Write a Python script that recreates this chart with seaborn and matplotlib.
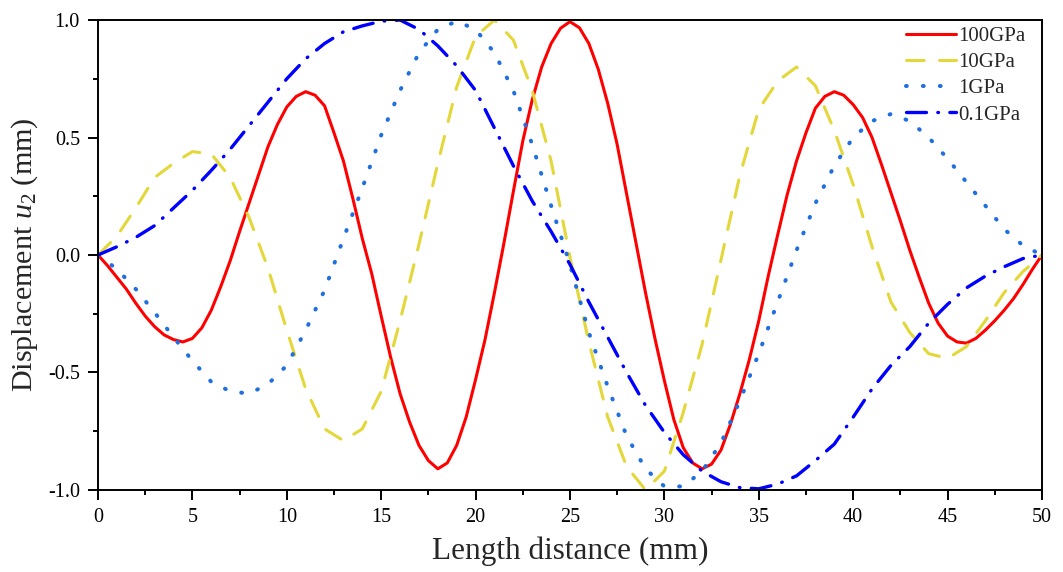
import numpy as np
import pandas as pd
import matplotlib
matplotlib.use("Agg")
import matplotlib.pyplot as plt
from matplotlib.ticker import MultipleLocator, FormatStrFormatter
import seaborn as sns

# ---------------- data ----------------
# 100 GPa curve read every 0.5 mm
x_half = [i * 0.5 for i in range(0, 101)]
u_100GPa = [0.0, -0.045, -0.095, -0.145, -0.205, -0.26, -0.305, -0.34, -0.36, -0.37,
            -0.355, -0.31, -0.235, -0.135, -0.025, 0.10, 0.22, 0.34, 0.46, 0.555,
            0.63, 0.675, 0.695, 0.68, 0.635, 0.52, 0.40, 0.24, 0.07, -0.08,
            -0.26, -0.435, -0.59, -0.71, -0.81, -0.875, -0.91, -0.885, -0.81, -0.69,
            -0.53, -0.36, -0.16, 0.05, 0.27, 0.485, 0.66, 0.80, 0.90, 0.965,
            0.993, 0.967, 0.90, 0.79, 0.645, 0.47, 0.26, 0.05, -0.16, -0.355,
            -0.535, -0.70, -0.82, -0.885, -0.91, -0.89, -0.83, -0.72, -0.59, -0.445,
            -0.28, -0.09, 0.085, 0.255, 0.40, 0.52, 0.625, 0.675, 0.695, 0.68,
            0.64, 0.585, 0.50, 0.385, 0.265, 0.145, 0.02, -0.095, -0.205, -0.29,
            -0.345, -0.37, -0.375, -0.355, -0.32, -0.28, -0.235, -0.185, -0.125, -0.06,
            0.0]

# other curves read every 1 mm
x_mm = list(range(0, 51))

u_10GPa = [0.0, 0.08, 0.20, 0.33, 0.39, 0.44, 0.43, 0.33, 0.16, -0.055,
           -0.32, -0.57, -0.74, -0.79, -0.74, -0.58, -0.28, 0.045, 0.39, 0.715,
           0.93, 1.00, 0.915, 0.70, 0.40, -0.01, -0.37, -0.69, -0.90, -1.00,
           -0.92, -0.67, -0.38, -0.02, 0.34, 0.62, 0.74, 0.80, 0.72, 0.53,
           0.30, 0.035, -0.20, -0.33, -0.42, -0.44, -0.39, -0.28, -0.16, -0.07, 0.0]

u_1GPa = [0.0, -0.06, -0.145, -0.245, -0.35, -0.45, -0.54, -0.58, -0.59, -0.55,
          -0.47, -0.32, -0.15, 0.07, 0.285, 0.51, 0.70, 0.86, 0.96, 0.995,
          0.96, 0.86, 0.70, 0.47, 0.21, -0.04, -0.33, -0.56, -0.77, -0.91,
          -0.985, -0.985, -0.92, -0.80, -0.62, -0.42, -0.20, 0.02, 0.22, 0.38,
          0.50, 0.57, 0.60, 0.57, 0.50, 0.41, 0.31, 0.21, 0.11, 0.04, 0.0]

u_01GPa = [0.0, 0.035, 0.075, 0.125, 0.20, 0.275, 0.36, 0.45, 0.55, 0.65,
           0.75, 0.835, 0.90, 0.95, 0.975, 0.995, 1.0, 0.96, 0.89, 0.805,
           0.70, 0.54, 0.38, 0.23, 0.10, -0.04, -0.20, -0.35, -0.50, -0.64,
           -0.755, -0.85, -0.92, -0.965, -0.99, -0.995, -0.975, -0.94, -0.875, -0.805,
           -0.69, -0.57, -0.47, -0.39, -0.29, -0.21, -0.14, -0.09, -0.05, -0.015, 0.0]

labels = ["100GPa", "10GPa", "1GPa", "0.1GPa"]
x_ticks = [0, 5, 10, 15, 20, 25, 30, 35, 40, 45, 50]
y_ticks = [-1.0, -0.5, 0.0, 0.5, 1.0]

# ---------------- style ----------------
sns.set_theme(style="ticks")
plt.rcParams["font.family"] = ["Liberation Serif", "DejaVu Serif"]
plt.rcParams["mathtext.fontset"] = "custom"
plt.rcParams["mathtext.rm"] = "Liberation Serif"
plt.rcParams["mathtext.it"] = "Liberation Serif:italic"
plt.rcParams["axes.unicode_minus"] = False

fig = plt.figure(figsize=(10.63, 5.72), dpi=100)
ax = fig.add_axes([0.0922, 0.1434, 0.888, 0.8216])

series = [(x_half, u_100GPa), (x_mm, u_10GPa), (x_mm, u_1GPa), (x_mm, u_01GPa)]
colors = ["#ff0000", "#e3d73a", "#1f6fe0", "#0000ff"]
styles = ["-", (0, (5.8, 5.0)), (0, (0.2, 4.0)), (0, (6.0, 3.4, 0.2, 3.4))]
widths = [2.2, 2.2, 2.9, 2.4]

for (xs, ys), lab, c, ls, lw in zip(series, labels, colors, styles, widths):
    df = pd.DataFrame({"x": xs, "y": ys})
    sns.lineplot(data=df, x="x", y="y", ax=ax, color=c, lw=lw,
                 linestyle=ls, label=lab, dash_capstyle="round",
                 solid_capstyle="round", solid_joinstyle="round")

ax.set_xlim(0, 50)
ax.set_ylim(-1.0, 1.0)
ax.xaxis.set_minor_locator(MultipleLocator(2.5))
ax.yaxis.set_minor_locator(MultipleLocator(0.25))
ax.set_xticks(x_ticks)
ax.set_yticks(y_ticks)
ax.yaxis.set_major_formatter(FormatStrFormatter("%.1f"))

ax.tick_params(axis="both", which="major", direction="out", length=7,
               width=1.4, labelsize=14.5, color="black", labelcolor="black", pad=6)
ax.tick_params(axis="both", which="minor", direction="out", length=3.5,
               width=1.4, color="black")
for sp in ax.spines.values():
    sp.set_visible(True)
    sp.set_linewidth(1.4)
    sp.set_color("black")

ax.set_xlabel("Length distance (mm)", fontsize=22.5, labelpad=7)
ax.set_ylabel(r"Displacement $u_2$ (mm)", fontsize=21.7, labelpad=6)

leg = ax.legend(loc="upper right", frameon=False, fontsize=15,
                handlelength=2.4, handletextpad=0.1, labelspacing=0.32,
                borderaxespad=0.0, borderpad=0.4,
                bbox_to_anchor=(0.9915, 1.0045))

fig.savefig("out.png", dpi=100, facecolor="white")
